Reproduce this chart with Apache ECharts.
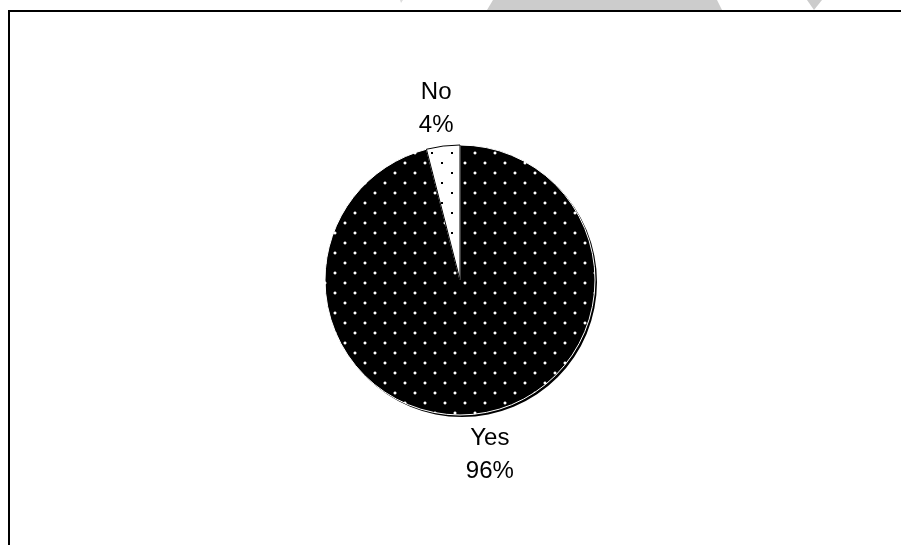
<!DOCTYPE html>
<html>
<head>
<meta charset="utf-8">
<script src="https://cdn.jsdelivr.net/npm/echarts@6/dist/echarts.min.js"></script>
<style>
  html, body { margin: 0; padding: 0; background: #fff; }
  #chart { width: 901px; height: 545px; }
</style>
</head>
<body>
<div id="chart"></div>
<script>
// Survey answers and their shares (percent)
const answers = ['Yes', 'No'];
const shares = [96, 4];

// Dotted fills: 20px tiles with two staggered dots
function dotTile(bg, halo, dot, dots) {
  const c = document.createElement('canvas');
  c.width = 20; c.height = 20;
  const g = c.getContext('2d');
  g.fillStyle = bg;
  g.fillRect(0, 0, 20, 20);
  dots.forEach(([x, y]) => {
    if (halo) {
      g.fillStyle = halo;
      g.fillRect(x - 1, y, 4, 2);
      g.fillRect(x, y - 1, 2, 4);
    }
    g.fillStyle = dot;
    g.fillRect(x, y, 2, 2);
  });
  return c;
}
const darkDots = dotTile('#000000', '#5a5a5a', '#ffffff', [[4, 2], [14, 12]]);
const lightDots = dotTile('#ffffff', null, '#000000', [[1, 2], [11, 12]]);

const fills = [
  { color: { image: darkDots, repeat: 'repeat' }, borderColor: '#ffffff', borderWidth: 1 },
  { color: { image: lightDots, repeat: 'repeat' }, borderColor: '#000000', borderWidth: 1 }
];

const pieData = answers.map((name, i) => ({ name, value: shares[i], itemStyle: fills[i] }));
const shadowData = answers.map((name, i) => ({ name, value: shares[i] }));

const chart = echarts.init(document.getElementById('chart'), null, { renderer: 'canvas' });
chart.setOption({
  animation: false,
  backgroundColor: '#ffffff',
  graphic: [
    { type: 'polygon', z: 0, shape: { points: [[493, 0], [717, 0], [722, 10], [487, 10]] }, style: { fill: '#cccccc' }, silent: true },
    { type: 'polygon', z: 0, shape: { points: [[807, 0], [822, 0], [814, 10]] }, style: { fill: '#cccccc' }, silent: true },
    { type: 'polygon', z: 0, shape: { points: [[400, 0], [403, 0], [401, 3]] }, style: { fill: '#dddddd' }, silent: true },
    { type: 'rect', z: 1, shape: { x: 9, y: 11, width: 1000, height: 700 }, style: { fill: 'none', stroke: '#000000', lineWidth: 2 }, silent: true }
  ],
  series: [
    {
      type: 'pie',
      z: 1,
      silent: true,
      center: [462, 282],
      radius: 135,
      startAngle: 90,
      clockwise: true,
      avoidLabelOverlap: false,
      data: shadowData,
      itemStyle: { color: '#000000', borderWidth: 0 },
      label: { show: false },
      labelLine: { show: false },
      emphasis: { disabled: true }
    },
    {
      type: 'pie',
      z: 2,
      silent: true,
      center: [460, 280],
      radius: 135,
      startAngle: 90,
      clockwise: true,
      avoidLabelOverlap: false,
      percentPrecision: 0,
      data: pieData,
      label: {
        show: true,
        position: 'outside',
        formatter: '{b}\n{d}%',
        color: '#000000',
        fontFamily: '"Liberation Sans", Arial, sans-serif',
        fontSize: 24,
        lineHeight: 33,
        distanceToLabelLine: 5
      },
      labelLine: { show: false, length: 39, length2: 0 },
      labelLayout: function () {
        return { align: 'center', verticalAlign: 'middle', dx: 3, dy: 2 };
      },
      emphasis: { disabled: true }
    }
  ]
});
</script>
</body>
</html>
